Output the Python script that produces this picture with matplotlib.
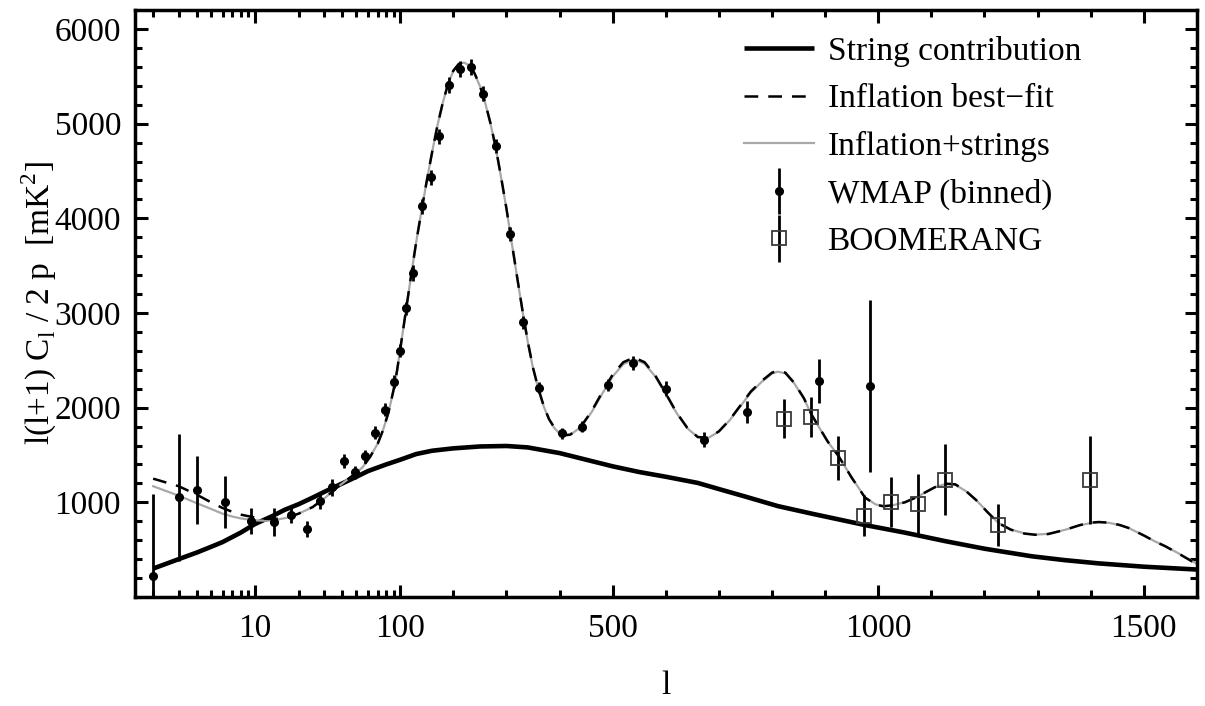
import numpy as np
import matplotlib
matplotlib.use('Agg')
import matplotlib.pyplot as plt
from matplotlib.ticker import FixedLocator, NullFormatter
from matplotlib.legend_handler import HandlerErrorbar
from matplotlib.container import ErrorbarContainer

plt.rcParams['font.family'] = 'Liberation Serif'
plt.rcParams['font.size'] = 24

# String contribution
l_str = [2, 3, 4, 5, 6, 8, 10, 13, 16, 20, 25, 30, 40, 50, 60, 80, 100, 130, 160,
         200, 250, 300, 340, 400, 450, 500, 550, 600, 660, 700, 750, 811, 875, 975,
         1050, 1126, 1200, 1289, 1350, 1415, 1500, 1600]
cl_str = [300, 400, 470, 530, 580, 680, 770, 850, 920, 980, 1050, 1110, 1200, 1270,
          1330, 1400, 1450, 1510, 1545, 1570, 1590, 1595, 1580, 1520, 1450, 1380,
          1320, 1270, 1205, 1140, 1060, 960, 880, 760, 680, 590, 510, 430, 390, 355,
          320, 290]

# Inflation best-fit
l_inf = [2, 3, 4, 5, 6, 7, 8, 10, 12, 14, 17, 20, 25, 30, 37, 45, 50, 55, 62, 70,
         76, 83, 90, 95, 100, 110, 120, 130, 140, 150, 160, 170, 180, 190, 200, 210,
         220, 230, 240, 250, 260, 270, 280, 290, 300, 310, 320, 330, 340, 350, 360,
         370, 380, 390, 400, 410, 420, 440, 460, 480, 500, 520, 540, 560, 580, 600,
         620, 640, 660, 680, 700, 720, 740, 760, 780, 800, 811, 825, 842, 860, 874,
         890, 905, 925, 950, 975, 995, 1010, 1030, 1050, 1069, 1090, 1110, 1126, 1145,
         1165, 1185, 1205, 1226, 1250, 1275, 1296, 1320, 1352, 1380, 1400, 1415, 1435,
         1455, 1472, 1500, 1520, 1541, 1565, 1591, 1600]
cl_inf = [1250, 1170, 1080, 1000, 940, 900, 870, 840, 825, 825, 845, 880, 950, 1040,
          1160, 1260, 1310, 1370, 1480, 1620, 1760, 1950, 2190, 2390, 2620, 3000, 3380,
          3750, 4080, 4400, 4700, 4980, 5220, 5420, 5560, 5630, 5650, 5620, 5530, 5400,
          5220, 5000, 4740, 4430, 4100, 3740, 3380, 3030, 2700, 2420, 2200, 2020, 1880,
          1790, 1730, 1710, 1715, 1800, 1960, 2160, 2350, 2480, 2530, 2480, 2340, 2150,
          1950, 1790, 1690, 1680, 1750, 1870, 2020, 2170, 2280, 2370, 2390, 2370, 2260,
          2100, 1930, 1780, 1640, 1490, 1260, 1050, 975, 958, 970, 1000, 1046, 1110,
          1170, 1198, 1190, 1120, 1020, 900, 781, 710, 670, 657, 665, 710, 760, 785,
          792, 785, 760, 728, 650, 590, 534, 460, 375, 350]

# Inflation + strings
l_mix = l_inf
cl_mix = [1170, 1070, 990, 930, 880, 850, 830, 810, 805, 815, 840, 880, 950, 1040,
          1160, 1260, 1310, 1370, 1480, 1620, 1760, 1950, 2190, 2390, 2620, 3000, 3380,
          3750, 4080, 4400, 4700, 4980, 5220, 5420, 5560, 5630, 5645, 5615, 5525, 5395,
          5215, 4995, 4735, 4425, 4095, 3735, 3375, 3025, 2695, 2415, 2195, 2015, 1875,
          1785, 1725, 1705, 1712, 1795, 1950, 2145, 2330, 2460, 2510, 2465, 2330, 2140,
          1945, 1785, 1688, 1680, 1748, 1865, 2012, 2160, 2270, 2360, 2380, 2362, 2255,
          2095, 1928, 1778, 1640, 1490, 1262, 1052, 978, 960, 972, 1002, 1046, 1108,
          1166, 1192, 1186, 1118, 1020, 902, 783, 712, 672, 659, 667, 710, 758, 782,
          789, 783, 758, 727, 650, 590, 535, 462, 378, 352]

# WMAP binned band powers
l_wmap = [2, 3, 4, 6.2, 9.4, 13.5, 17.7, 22.7, 28, 34, 41, 49, 57, 67, 79, 90,
          100, 111, 124, 141, 158, 173, 192, 213, 234, 256, 281, 307, 332, 362,
          405, 442, 492, 538, 600, 672, 752, 888, 984]
cl_wmap = [221, 1053, 1127, 1000, 800, 790, 863, 716, 1011, 1158, 1432, 1316, 1485,
           1737, 1980, 2274, 2600, 3050, 3422, 4128, 4433, 4865, 5412, 5581, 5602,
           5318, 4760, 3833, 2900, 2210, 1727, 1800, 2240, 2470, 2200, 1660, 1954,
           2283, 2230]
err_wmap = [864, 668, 358, 273, 137, 147, 84, 85, 84, 90, 74, 70, 70, 70, 70, 70,
            70, 70, 80, 80, 80, 80, 85, 85, 85, 80, 75, 70, 65, 60, 55, 60, 65, 75,
            80, 80, 115, 230, 910]

# BOOMERANG band powers
l_boom = [823, 874, 925, 974, 1024, 1074, 1125, 1225, 1399]
cl_boom = [1883, 1901, 1470, 859, 1000, 986, 1240, 763, 1240]
err_boom = [206, 210, 233, 220, 265, 318, 375, 220, 465]

# log in l below 100, linear above
LIN = 0.003651


def fwd(l):
    l = np.asarray(l, dtype=float)
    return np.where(l <= 100, np.log10(np.clip(l, 1e-6, None)), 2 + (l - 100) * LIN)


def inv(f):
    f = np.asarray(f, dtype=float)
    return np.where(f <= 2, 10 ** np.minimum(f, 2), 100 + (f - 2) / LIN)


fig = plt.figure(figsize=(12.05, 7.06), dpi=100)
ax = fig.add_axes([0.1120, 0.1544, 0.8813, 0.8314])
ax.set_xscale('function', functions=(fwd, inv))

h_str, = ax.plot(l_str, cl_str, color='black', lw=3.3, solid_capstyle='butt')
h_mix, = ax.plot(l_mix, cl_mix, color='#a8a8a8', lw=1.6)
h_inf, = ax.plot(l_inf, cl_inf, color='black', lw=1.8, dashes=(5.5, 4))
h_wmap = ax.errorbar(l_wmap, cl_wmap, yerr=err_wmap, fmt='o', color='black', ms=5.5,
                     elinewidth=2, capsize=0, zorder=4)
h_boom = ax.errorbar(l_boom, cl_boom, yerr=err_boom, fmt='s', mfc='none', mec='#3a3a3a',
                     mew=1.3, ms=10, ecolor='black', elinewidth=2, capsize=0, zorder=4)

ax.set_xlim(1.5, 1600)
ax.set_ylim(0, 6200)

ax.xaxis.set_major_locator(FixedLocator([10, 100, 500, 1000, 1500]))
ax.xaxis.set_minor_locator(FixedLocator(
    [2, 3, 4, 5, 6, 7, 8, 9, 20, 30, 40, 50, 60, 70, 80, 90,
     200, 300, 400, 600, 700, 800, 900, 1100, 1200, 1300, 1400]))
ax.xaxis.set_minor_formatter(NullFormatter())
ax.set_xticklabels(['10', '100', '500', '1000', '1500'])
ax.yaxis.set_major_locator(FixedLocator([1000, 2000, 3000, 4000, 5000, 6000]))
ax.yaxis.set_minor_locator(FixedLocator(np.arange(0, 6200, 200)))

ax.tick_params(which='both', direction='in', top=True, right=True, width=2.2)
ax.tick_params(which='major', length=9)
ax.tick_params(which='minor', length=5)
ax.tick_params(axis='x', which='major', pad=12)
ax.tick_params(axis='y', which='major', pad=10)
for sp in ax.spines.values():
    sp.set_linewidth(2.5)

ax.set_xlabel('l', labelpad=19)
ax.set_ylabel(r'l(l+1) C$_{\mathregular{l}}$ / 2 p  [mK$^{\mathregular{2}}$]', labelpad=-3)

ax.legend([h_str, h_inf, h_mix, h_wmap, h_boom],
          ['String contribution', 'Inflation best\u2212fit', 'Inflation+strings',
           'WMAP (binned)', 'BOOMERANG'],
          loc='upper left', bbox_to_anchor=(0.558, 0.984), frameon=False, borderpad=0,
          handlelength=2.1, handletextpad=0.4, labelspacing=0.5,
          handler_map={ErrorbarContainer: HandlerErrorbar(yerr_size=0.7)})

fig.savefig('out.png', dpi=100)
